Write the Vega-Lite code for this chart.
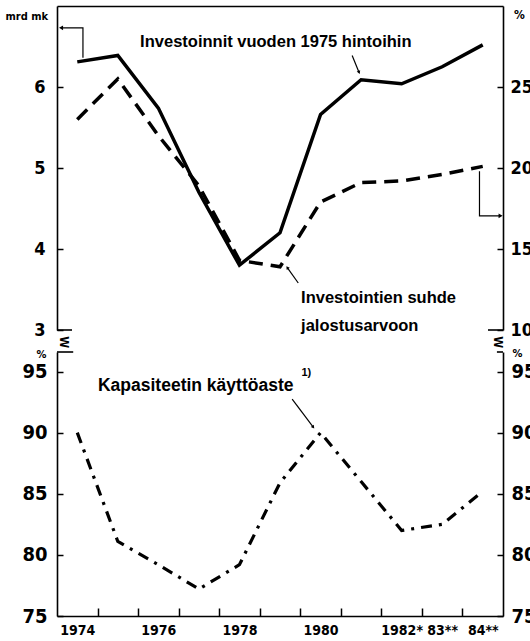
{
  "$schema": "https://vega.github.io/schema/vega-lite/v6.json",
  "padding": {"left": 5, "top": 6, "right": 0, "bottom": 0},
  "background": "white",
  "spacing": 22,
  "bounds": "flush",
  "config": {
    "view": {"stroke": null},
    "font": "DejaVu Sans Condensed, Liberation Sans, sans-serif",
    "axis": {
      "grid": false,
      "domainColor": "black",
      "domainWidth": 1.6,
      "tickColor": "black",
      "tickWidth": 1.5,
      "labelColor": "black",
      "labelFont": "DejaVu Sans Condensed, Liberation Sans, sans-serif",
      "labelFontWeight": "bold",
      "titleColor": "black",
      "titleFont": "DejaVu Sans Condensed, Liberation Sans, sans-serif",
      "titleFontWeight": "bold"
    }
  },
  "datasets": {
    "main": [
      {"year": 1974, "inv": 6.31, "ratio": 23.0, "cap": 90.0},
      {"year": 1975, "inv": 6.39, "ratio": 25.5, "cap": 81.1},
      {"year": 1976, "inv": 5.74, "ratio": 22.0, "cap": 79.2},
      {"year": 1977, "inv": 4.70, "ratio": 18.9, "cap": 77.2},
      {"year": 1978, "inv": 3.80, "ratio": 14.3, "cap": 79.2},
      {"year": 1979, "inv": 4.20, "ratio": 13.9, "cap": 85.9},
      {"year": 1980, "inv": 5.66, "ratio": 17.9, "cap": 90.0},
      {"year": 1981, "inv": 6.09, "ratio": 19.1, "cap": 86.0},
      {"year": 1982, "inv": 6.04, "ratio": 19.2, "cap": 82.0},
      {"year": 1983, "inv": 6.25, "ratio": 19.6, "cap": 82.5},
      {"year": 1984, "inv": 6.52, "ratio": 20.1, "cap": 85.2}
    ],
    "linksTop": [
      {"grp": "a", "o": 1, "year": 1974.14, "v": 6.36},
      {"grp": "a", "o": 2, "year": 1974.14, "v": 6.73},
      {"grp": "a", "o": 3, "year": 1973.62, "v": 6.73},
      {"grp": "b", "o": 1, "year": 1980.78, "v": 6.39},
      {"grp": "b", "o": 2, "year": 1980.95, "v": 6.18},
      {"grp": "c", "o": 1, "year": 1979.45, "v": 3.58},
      {"grp": "c", "o": 2, "year": 1979.18, "v": 3.77}
    ],
    "headA": [{"year": 1973.6, "v": 6.73}],
    "headB": [{"year": 1980.95, "v": 6.18}],
    "headC": [{"year": 1979.18, "v": 3.77}],
    "linkRight": [
      {"o": 1, "year": 1983.92, "v": 19.8},
      {"o": 2, "year": 1983.92, "v": 17.05},
      {"o": 3, "year": 1984.42, "v": 17.05}
    ],
    "headRight": [{"year": 1984.44, "v": 17.05}],
    "textTop": [
      {"year": 1975.55, "v": 6.55, "label": "Investoinnit  vuoden 1975 hintoihin"},
      {"year": 1979.52, "v": 3.40, "label": "Investointien  suhde"},
      {"year": 1979.52, "v": 3.05, "label": "jalostusarvoon"}
    ],
    "breaks": [
      {"year": 1973.67, "v": 2.85, "label": "W"},
      {"year": 1984.38, "v": 2.85, "label": "W"}
    ],
    "feetTop": [
      {"year": 1973.5, "year2": 1973.87, "v": 3},
      {"year": 1984.13, "year2": 1984.5, "v": 3}
    ],
    "feetBottom": [
      {"year": 1973.5, "year2": 1973.9, "v": 96.6},
      {"year": 1984.35, "year2": 1984.5, "v": 96.6}
    ],
    "textBottom": [
      {"year": 1974.51, "v": 93.8, "label": "Kapasiteetin  käyttöaste"}
    ],
    "noteBottom": [
      {"year": 1979.65, "v": 94.9, "label": "1)"}
    ],
    "linkBottom": [
      {"o": 1, "year": 1979.30, "v": 92.75},
      {"o": 2, "year": 1979.82, "v": 90.45}
    ],
    "headBottom": [{"year": 1979.82, "v": 90.45}]
  },
  "vconcat": [
    {
      "width": 446,
      "height": 324,
      "encoding": {
        "x": {
          "field": "year",
          "type": "quantitative",
          "scale": {"domain": [1973.5, 1984.5], "nice": false, "zero": false},
          "axis": {"orient": "top", "labels": false, "ticks": false, "title": null, "domain": true}
        }
      },
      "layer": [
        {
          "data": {"name": "feetTop"},
          "mark": {"type": "rule", "color": "black", "strokeWidth": 1.6},
          "encoding": {
            "x2": {"field": "year2"},
            "y": {"field": "v", "type": "quantitative", "scale": {"domain": [3, 7], "nice": false, "zero": false}, "axis": null}
          }
        },
        {
          "data": {"name": "main"},
          "mark": {"type": "line", "color": "black", "strokeWidth": 3.5, "strokeJoin": "miter"},
          "encoding": {
            "y": {
              "field": "inv",
              "type": "quantitative",
              "scale": {"domain": [3, 7], "nice": false, "zero": false},
              "axis": {
                "orient": "left",
                "values": [3, 4, 5, 6],
                "format": "d",
                "tickSize": -6,
                "labelPadding": 18,
                "labelFontSize": 18,
                "title": "mrd mk",
                "titleAngle": 0,
                "titleFontSize": 11,
                "titleAlign": "left",
                "titleBaseline": "middle",
                "titleX": -52,
                "titleY": 10
              }
            }
          }
        },
        {
          "data": {"name": "main"},
          "mark": {"type": "line", "color": "black", "strokeWidth": 3.5, "strokeDash": [14, 8], "strokeJoin": "miter"},
          "encoding": {
            "y": {
              "field": "ratio",
              "type": "quantitative",
              "scale": {"domain": [10, 30], "nice": false, "zero": false},
              "axis": {
                "orient": "right",
                "values": [10, 15, 20, 25],
                "format": "d",
                "tickSize": -6,
                "labelPadding": 13,
                "labelFontSize": 18,
                "title": "%",
                "titleAngle": 0,
                "titleFontSize": 12,
                "titleAlign": "center",
                "titleBaseline": "middle",
                "titleX": 16,
                "titleY": 8
              }
            }
          }
        },
        {
          "data": {"name": "linkRight"},
          "mark": {"type": "line", "color": "black", "strokeWidth": 1.2},
          "encoding": {
            "order": {"field": "o"},
            "y": {"field": "v", "type": "quantitative", "scale": {"domain": [10, 30], "nice": false, "zero": false}, "axis": null}
          }
        },
        {
          "data": {"name": "headRight"},
          "mark": {"type": "point", "shape": "triangle-right", "filled": true, "color": "black", "size": 22, "opacity": 1},
          "encoding": {
            "y": {"field": "v", "type": "quantitative", "scale": {"domain": [10, 30], "nice": false, "zero": false}, "axis": null}
          }
        },
        {
          "data": {"name": "linksTop"},
          "mark": {"type": "line", "color": "black", "strokeWidth": 1.2},
          "encoding": {
            "detail": {"field": "grp"},
            "order": {"field": "o"},
            "y": {"field": "v", "type": "quantitative", "scale": {"domain": [3, 7], "nice": false, "zero": false}, "axis": null}
          }
        },
        {
          "data": {"name": "headA"},
          "mark": {"type": "point", "shape": "triangle-left", "filled": true, "color": "black", "size": 22, "opacity": 1},
          "encoding": {
            "y": {"field": "v", "type": "quantitative", "scale": {"domain": [3, 7], "nice": false, "zero": false}, "axis": null}
          }
        },
        {
          "data": {"name": "headB"},
          "mark": {"type": "point", "shape": "triangle-down", "angle": -22, "filled": true, "color": "black", "size": 14, "opacity": 1},
          "encoding": {
            "y": {"field": "v", "type": "quantitative", "scale": {"domain": [3, 7], "nice": false, "zero": false}, "axis": null}
          }
        },
        {
          "data": {"name": "headC"},
          "mark": {"type": "point", "shape": "triangle-up", "angle": -36, "filled": true, "color": "black", "size": 14, "opacity": 1},
          "encoding": {
            "y": {"field": "v", "type": "quantitative", "scale": {"domain": [3, 7], "nice": false, "zero": false}, "axis": null}
          }
        },
        {
          "data": {"name": "textTop"},
          "mark": {"type": "text", "align": "left", "baseline": "middle", "font": "Liberation Sans, Arial, sans-serif", "fontWeight": "bold", "fontSize": 16.5, "color": "black"},
          "encoding": {
            "text": {"field": "label"},
            "y": {"field": "v", "type": "quantitative", "scale": {"domain": [3, 7], "nice": false, "zero": false}, "axis": null}
          }
        },
        {
          "data": {"name": "breaks"},
          "mark": {"type": "text", "align": "center", "baseline": "middle", "angle": 90, "fontSize": 12, "fontWeight": "bold", "color": "black", "clip": false},
          "encoding": {
            "text": {"field": "label"},
            "y": {"field": "v", "type": "quantitative", "scale": {"domain": [3, 7], "nice": false, "zero": false}, "axis": null}
          }
        }
      ],
      "resolve": {"scale": {"y": "independent"}, "axis": {"y": "independent"}}
    },
    {
      "width": 446,
      "height": 264,
      "encoding": {
        "x": {
          "field": "year",
          "type": "quantitative",
          "scale": {"domain": [1973.5, 1984.5], "nice": false, "zero": false},
          "axis": {
            "orient": "bottom",
            "title": null,
            "values": [1974, 1974.5, 1975.5, 1976, 1976.5, 1977.5, 1978, 1978.5, 1979.5, 1980, 1980.5, 1981.5, 1982, 1982.5, 1983, 1983.5, 1984],
            "labelExpr": "datum.value == 1982 ? '1982*' : datum.value == 1983 ? '83**' : datum.value == 1984 ? '84**' : (datum.value % 1 == 0 ? '' + datum.value : '')",
            "labelOverlap": false,
            "labelFlush": false,
            "labelFontSize": 14,
            "tickSize": -8,
            "labelPadding": 15,
            "tickOpacity": {"condition": {"test": "datum.value % 1 == 0", "value": 0}, "value": 1}
          }
        }
      },
      "layer": [
        {
          "data": {"name": "main"},
          "mark": {"type": "line", "color": "black", "strokeWidth": 3.2, "strokeDash": [11, 7, 3, 7], "strokeJoin": "miter"},
          "encoding": {
            "y": {
              "field": "cap",
              "type": "quantitative",
              "scale": {"domain": [75, 96.6], "nice": false, "zero": false},
              "axis": {
                "orient": "left",
                "values": [75, 80, 85, 90, 95],
                "format": "d",
                "tickSize": -6,
                "labelPadding": 16,
                "labelFontSize": 20,
                "title": "%",
                "titleAngle": 0,
                "titleFontSize": 11,
                "titleAlign": "center",
                "titleBaseline": "middle",
                "titleX": -16,
                "titleY": 2
              }
            }
          }
        },
        {
          "data": {"name": "feetBottom"},
          "mark": {"type": "rule", "color": "black", "strokeWidth": 1.6},
          "encoding": {
            "x2": {"field": "year2"},
            "y": {
              "field": "v",
              "type": "quantitative",
              "scale": {"domain": [75, 96.6], "nice": false, "zero": false},
              "axis": {
                "orient": "right",
                "values": [75, 80, 85, 90, 95],
                "format": "d",
                "tickSize": -6,
                "labelPadding": 14,
                "labelFontSize": 20,
                "title": "%",
                "titleAngle": 0,
                "titleFontSize": 11,
                "titleAlign": "center",
                "titleBaseline": "middle",
                "titleX": 14,
                "titleY": 1
              }
            }
          }
        },
        {
          "data": {"name": "textBottom"},
          "mark": {"type": "text", "align": "left", "baseline": "middle", "font": "Liberation Sans, Arial, sans-serif", "fontWeight": "bold", "fontSize": 17.5, "color": "black"},
          "encoding": {
            "text": {"field": "label"},
            "y": {"field": "v", "type": "quantitative", "axis": null}
          }
        },
        {
          "data": {"name": "noteBottom"},
          "mark": {"type": "text", "align": "center", "baseline": "middle", "font": "Liberation Sans, Arial, sans-serif", "fontWeight": "bold", "fontSize": 11, "color": "black"},
          "encoding": {
            "text": {"field": "label"},
            "y": {"field": "v", "type": "quantitative", "axis": null}
          }
        },
        {
          "data": {"name": "linkBottom"},
          "mark": {"type": "line", "color": "black", "strokeWidth": 1.2},
          "encoding": {
            "order": {"field": "o"},
            "y": {"field": "v", "type": "quantitative", "axis": null}
          }
        },
        {
          "data": {"name": "headBottom"},
          "mark": {"type": "point", "shape": "triangle-down", "angle": -37, "filled": true, "color": "black", "size": 14, "opacity": 1},
          "encoding": {
            "y": {"field": "v", "type": "quantitative", "axis": null}
          }
        }
      ],
      "resolve": {"axis": {"y": "independent"}}
    }
  ]
}
